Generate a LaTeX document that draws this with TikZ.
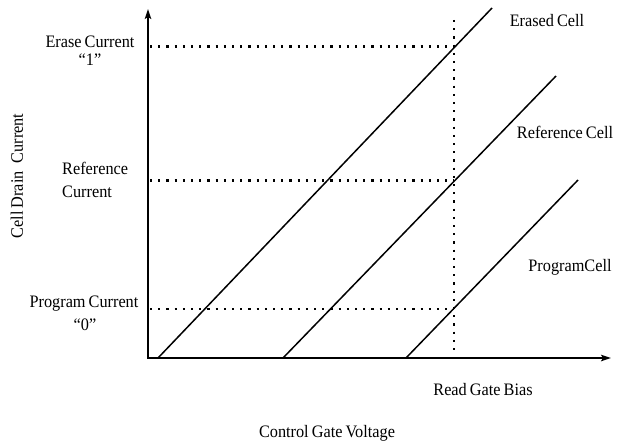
\documentclass[tikz,border=0pt]{standalone}
\usepackage{fontspec}
\setmainfont{Liberation Serif}[FakeStretch=0.93, WordSpace=0.75]
\usetikzlibrary{arrows.meta}
\begin{document}
\begin{tikzpicture}[x=1pt, y=-1pt,
    lbl/.style={inner sep=0pt, font=\fontsize{17.5}{19}\selectfont},
    axis/.style={line width=1.8pt, -{Stealth[length=10pt,width=6.5pt,inset=2pt]}},
    cell/.style={line width=1.5pt},
    guide/.style={line width=2.2pt, dash pattern=on 2.2pt off 6pt}]
  \useasboundingbox (0,0) rectangle (618,444);

  % axes
  \coordinate (O) at (148,358);
  \coordinate (ytop) at (148,9);
  \coordinate (xend) at (611,358);
  \draw[axis] ([yshift=0.9pt]O) -- (ytop);
  \draw[axis] ([xshift=-0.9pt]O) -- (xend);

  % read gate bias guide and current levels
  \coordinate (rgTop) at (454,20);
  \coordinate (rgBot) at (454,356);
  \coordinate (eL) at (150,46.5);
  \coordinate (eR) at (454,46.5);
  \coordinate (rL) at (150,180.5);
  \coordinate (rR) at (454,180.5);
  \coordinate (pL) at (150,309);
  \coordinate (pR) at (454,309);
  \draw[guide] (rgTop) -- (rgBot);
  \draw[guide] (eL) -- (eR);
  \draw[guide] (rL) -- (rR);
  \draw[guide] (pL) -- (pR);

  % cell characteristics
  \coordinate (e0) at (158,358);
  \coordinate (e1) at (492,8);
  \coordinate (r0) at (283,358);
  \coordinate (r1) at (556,76);
  \coordinate (p0) at (406,358);
  \coordinate (p1) at (578,180);
  \draw[cell] (e0) -- (e1);
  \draw[cell] (r0) -- (r1);
  \draw[cell] (p0) -- (p1);

  % labels
  \node[lbl] (eraseCur) at (90,42) {Erase Current};
  \node[lbl] (eraseOne) at (90,60) {``1''};
  \node[lbl, anchor=west] (refCur1) at (62,168) {Reference};
  \node[lbl, anchor=west] (refCur2) at (62,192) {Current};
  \node[lbl] (progCur) at (84,304) {Program Current};
  \node[lbl] (progZero) at (85,325) {``0''};
  \node[lbl, rotate=90] (ylab) at (17,176) {Cell Drain\hspace{8pt}Current};
  \node[lbl] (erasedCell) at (547,21) {Erased Cell};
  \node[lbl] (refCell) at (565,132) {Reference Cell};
  \node[lbl] (progCell) at (570,267) {Program\hspace{-3pt} Cell};
  \node[lbl] (readBias) at (483,390) {Read Gate Bias};
  \node[lbl] (xlab) at (327,433) {Control Gate Voltage};
\end{tikzpicture}
\end{document}
